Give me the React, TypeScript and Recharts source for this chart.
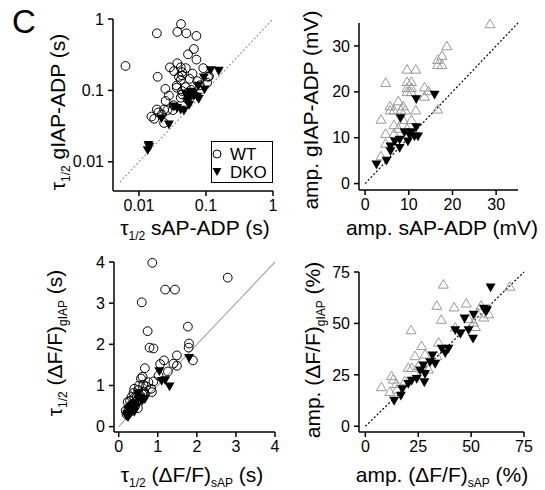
import React from 'react'
import { ScatterChart, Scatter, XAxis, YAxis, ReferenceLine } from 'recharts'

const FONT = 'Arial, "Liberation Sans", Helvetica, sans-serif'

// tau1/2 of the ADP, glutamate-induced AP vs synaptic AP (s)
const tauAdpWT: [number, number][] = [
  [0.0063, 0.22], [0.0185, 0.63], [0.0424, 0.85], [0.0374, 0.66], [0.051, 0.63], [0.072, 0.58],
  [0.066, 0.38], [0.054, 0.32], [0.072, 0.27], [0.0374, 0.24], [0.029, 0.21], [0.042, 0.21],
  [0.05, 0.205], [0.0334, 0.186], [0.044, 0.18], [0.044, 0.162], [0.063, 0.172], [0.0395, 0.155],
  [0.091, 0.205], [0.107, 0.155], [0.019, 0.155], [0.057, 0.145], [0.042, 0.14], [0.074, 0.135],
  [0.104, 0.128], [0.0366, 0.117], [0.0366, 0.109], [0.0248, 0.105], [0.0497, 0.111], [0.06, 0.102],
  [0.044, 0.098], [0.053, 0.093], [0.063, 0.088], [0.044, 0.088], [0.028, 0.085], [0.042, 0.079],
  [0.025, 0.071], [0.053, 0.075], [0.033, 0.062], [0.0237, 0.054], [0.0185, 0.054], [0.0195, 0.049],
  [0.0266, 0.053], [0.032, 0.053], [0.022, 0.046], [0.0154, 0.043], [0.0169, 0.04], [0.0237, 0.035],
  [0.111, 0.158], [0.081, 0.118],
]
const tauAdpDKO: [number, number][] = [
  [0.155, 0.186], [0.117, 0.19], [0.093, 0.15], [0.077, 0.115], [0.095, 0.102], [0.05, 0.088],
  [0.066, 0.083], [0.074, 0.081], [0.078, 0.075], [0.053, 0.069], [0.056, 0.062], [0.033, 0.059],
  [0.037, 0.056], [0.042, 0.053], [0.047, 0.052], [0.0217, 0.04], [0.028, 0.033], [0.0139, 0.017],
  [0.0135, 0.0144], [0.0142, 0.016], [0.06, 0.095], [0.065, 0.09], [0.055, 0.078],
]

// ADP amplitude (mV)
const ampAdpWT: [number, number][] = [
  [28.6, 34.8], [18.7, 30], [17.6, 27.9], [16.6, 27], [16.6, 25.9], [17.6, 25.9], [9.6, 24.9],
  [11.6, 24.9], [4.7, 22], [9.6, 22.2], [10.6, 22.2], [9.6, 20.9], [10.6, 20.9], [9.6, 20],
  [10.6, 20], [13.6, 21], [14.5, 20.2], [13.6, 19], [16.6, 16.2], [7.6, 18], [5.7, 16.9],
  [6.6, 16], [5.7, 16], [8.7, 16.9], [9.2, 16], [8.2, 16], [11.6, 16], [3.65, 14], [6.6, 12.8],
  [8.7, 13.9], [10.6, 13.9], [7.6, 12], [9.6, 12], [4.7, 10.9], [6.6, 10.9], [4.7, 8.75], [3.65, 6],
]
const ampAdpDKO: [number, number][] = [
  [2.6, 4.1], [4.9, 4.9], [5.8, 8.0], [5.8, 7.0], [7.9, 9.5], [7.9, 7.7], [6.8, 9.1], [8.1, 14.2],
  [11.7, 18.3], [15.9, 19.3], [9.0, 11.1], [10.6, 11.1], [10.2, 10.4], [11.7, 12.2], [11.3, 10.2],
  [9.8, 9.1], [12.1, 10.2],
]

// tau1/2 of the dF/F transient (s)
const tauCaWT: [number, number][] = [
  [0.86, 3.98], [2.79, 3.62], [1.19, 3.33], [1.44, 3.33], [0.59, 3.02], [0.74, 2.32], [1.77, 2.43],
  [1.8, 2.02], [1.79, 1.92], [0.79, 1.92], [0.89, 1.9], [1.49, 1.73], [1.16, 1.61], [1.4, 1.53],
  [1.49, 1.48], [1.9, 1.61], [1.06, 1.52], [0.67, 1.42], [1.26, 1.34], [0.61, 1.21], [0.57, 1.17],
  [1.02, 1.24], [0.89, 1.1], [0.76, 1.08], [0.63, 1.02], [0.83, 0.92], [0.85, 0.84], [0.5, 0.89],
  [0.4, 0.92], [0.67, 0.8], [0.29, 0.63], [0.23, 0.6], [0.18, 0.39], [0.49, 0.45], [0.33, 0.72],
  [0.46, 0.72], [0.3, 0.5], [0.35, 0.55], [0.4, 0.7], [0.45, 0.6], [0.25, 0.45], [0.28, 0.35],
  [0.55, 0.75], [0.6, 0.8], [0.65, 0.85], [0.2, 0.3], [0.38, 0.82], [0.52, 1.0], [0.42, 0.5],
  [0.7, 0.98],
]
const tauCaDKO: [number, number][] = [
  [1.8, 1.66], [1.04, 1.34], [1.1, 1.1], [1.19, 1.12], [1.3, 0.97], [0.67, 0.66], [0.49, 0.8],
  [0.5, 0.66], [0.2, 0.25], [0.29, 0.35], [0.22, 0.3], [0.25, 0.4], [0.3, 0.45], [0.35, 0.5],
  [0.38, 0.42], [0.42, 0.55], [0.45, 0.48], [0.28, 0.28], [0.33, 0.38], [0.24, 0.22], [0.55, 0.7],
  [0.6, 0.62], [0.4, 0.35],
]

// dF/F amplitude (%)
const ampCaWT: [number, number][] = [
  [36.9, 69], [68.3, 68], [33.8, 58.7], [42, 57.9], [47.7, 59.8], [35.9, 51.9], [21.6, 46.8],
  [54.7, 58.7], [58.3, 54.6], [51.2, 50.5], [52, 48.4], [48.8, 52.2], [42.5, 48.1], [34.6, 40.8],
  [26.6, 39.1], [23.5, 34.2], [28.2, 35], [33.8, 34.2], [20.3, 28.5], [21.9, 28.5], [25.1, 29.4],
  [29.8, 27.7], [12.4, 24.5], [13.2, 22.8], [7.6, 19.1], [11.6, 16.8], [14.7, 20.7], [18.7, 22],
  [53, 55], [56, 53], [27, 28], [15, 18],
]
const ampCaDKO: [number, number][] = [
  [59.2, 67.3], [56, 57], [57.5, 56.3], [51.2, 54.1], [46.9, 52.2], [50.9, 42.4], [48.8, 46.5],
  [44.9, 44.8], [42.5, 46.5], [39.3, 37.5], [36.1, 37.5], [37.8, 35.4], [31.7, 34.2], [33, 30.1],
  [30.6, 31], [27.4, 29.4], [25.9, 26.9], [28.2, 25.2], [24.3, 22.8], [21.9, 22], [20.3, 20.4],
  [27.9, 21.2], [17.5, 17.9], [16.8, 14.7], [13.6, 12.2], [57, 55.5], [45, 45],
]

const logTicks = [0.01, 0.1, 1]
const mvTicks = [0, 10, 20, 30]
const secTicks = [0, 1, 2, 3, 4]
const pctTicks = [0, 25, 50, 75]

const toPts = (a: [number, number][]) => a.map(([x, y]) => ({ x, y }))

const OpenCircle = (p: any) => <circle cx={p.cx} cy={p.cy} r={4.4} fill="none" stroke="#000" strokeWidth={1} />
const DownTri = (p: any) => (
  <path d={`M${p.cx - 5},${p.cy - 4.3} L${p.cx + 5},${p.cy - 4.3} L${p.cx},${p.cy + 4.5} Z`} fill="#000" />
)
const GrayTri = (p: any) => (
  <path d={`M${p.cx - 5},${p.cy + 3.8} L${p.cx + 5},${p.cy + 3.8} L${p.cx},${p.cy - 4.8} Z`}
    fill="none" stroke="#999" strokeWidth={1} />
)

type Part = [string, boolean]
function Title({ x, y, parts, vertical }: { x: number; y: number; parts: Part[]; vertical?: boolean }) {
  let prev = false
  return (
    <text x={x} y={y} textAnchor="middle" fontFamily={FONT} fontSize={21} fill="#000"
      transform={vertical ? `rotate(-90 ${x} ${y})` : undefined}>
      {parts.map(([s, sub], i) => {
        const dy = sub === prev ? 0 : sub ? 5 : -5
        prev = sub
        return <tspan key={i} dy={dy} fontSize={sub ? 12 : 21}>{s}</tspan>
      })}
    </text>
  )
}

const tick = { fontSize: 16, fill: '#000', fontFamily: FONT }
const axisLine = { stroke: '#000', strokeWidth: 1.5 }

interface PanelProps {
  left: number; top: number; width: number; height: number
  plot: [number, number, number, number] // x0, y0, x1, y1 in page px
  log?: boolean
  xDomain: [number, number]; yDomain: [number, number]
  xTicks: number[]; yTicks: number[]
  wt: [number, number][]; dko: [number, number][]
  wtShape: any
  diag: [number, number]; diagColor: string; diagDash?: string
}

function Panel(p: PanelProps) {
  const [x0, y0, x1, y1] = p.plot
  const yw = 50, xh = 30
  const margin = {
    top: y0 - p.top,
    left: x0 - p.left - yw,
    right: p.left + p.width - x1,
    bottom: p.top + p.height - y1 - xh,
  }
  return (
    <div style={{ position: 'absolute', left: p.left, top: p.top }}>
      <ScatterChart width={p.width} height={p.height} margin={margin}>
        <XAxis type="number" dataKey="x" scale={p.log ? 'log' : 'linear'} domain={p.xDomain} ticks={p.xTicks}
          interval={0} height={xh} tick={tick} tickSize={5} tickMargin={4}
          axisLine={axisLine} tickLine={axisLine} />
        <YAxis type="number" dataKey="y" scale={p.log ? 'log' : 'linear'} domain={p.yDomain} ticks={p.yTicks}
          interval={0} width={yw} tick={tick} tickSize={5} tickMargin={4}
          axisLine={axisLine} tickLine={axisLine} />
        <ReferenceLine segment={[{ x: p.diag[0], y: p.diag[0] }, { x: p.diag[1], y: p.diag[1] }]}
          stroke={p.diagColor} strokeWidth={1.2} strokeDasharray={p.diagDash} ifOverflow="visible" />
        <Scatter data={toPts(p.wt)} shape={p.wtShape} isAnimationActive={false} />
        <Scatter data={toPts(p.dko)} shape={DownTri} isAnimationActive={false} />
      </ScatterChart>
    </div>
  )
}

export default function App() {
  return (
    <div style={{ position: 'absolute', left: 0, top: 0, width: 545, height: 490, overflow: 'hidden', background: '#fff', fontFamily: FONT }}>
      <Panel left={0} top={0} width={280} height={240} plot={[113, 19, 273, 191]} log
        xDomain={[0.0041, 1]} yDomain={[0.0039, 1]} xTicks={logTicks} yTicks={logTicks}
        wt={tauAdpWT} dko={tauAdpDKO} wtShape={OpenCircle}
        diag={[0.0052, 1]} diagColor="#999" diagDash="2 2" />
      <Panel left={280} top={0} width={265} height={240} plot={[359, 23, 518, 190]}
        xDomain={[-1.4, 35]} yDomain={[-1.4, 35]} xTicks={mvTicks} yTicks={mvTicks}
        wt={ampAdpWT} dko={ampAdpDKO} wtShape={GrayTri}
        diag={[0, 35]} diagColor="#000" diagDash="2 2" />
      <Panel left={0} top={240} width={280} height={250} plot={[114, 262, 275, 432]}
        xDomain={[-0.12, 4]} yDomain={[-0.13, 4]} xTicks={secTicks} yTicks={secTicks}
        wt={tauCaWT} dko={tauCaDKO} wtShape={OpenCircle}
        diag={[0, 4]} diagColor="#aaa" />
      <Panel left={280} top={240} width={265} height={250} plot={[359, 272, 524, 432]}
        xDomain={[-3, 75]} yDomain={[-2.8, 75]} xTicks={pctTicks} yTicks={pctTicks}
        wt={ampCaWT} dko={ampCaDKO} wtShape={GrayTri}
        diag={[0, 75]} diagColor="#000" diagDash="2 2" />

      <svg width={545} height={490} style={{ position: 'absolute', left: 0, top: 0, pointerEvents: 'none' }}>
        <text x={12} y={33} fontFamily={FONT} fontSize={33} fill="#000">C</text>
        <Title x={195} y={235} parts={[['τ', false], ['1/2', true], [' sAP-ADP (s)', false]]} />
        <Title x={65} y={112} vertical parts={[['τ', false], ['1/2', true], [' gIAP-ADP (s)', false]]} />
        <Title x={442} y={235} parts={[['amp. sAP-ADP (mV)', false]]} />
        <Title x={318} y={110} vertical parts={[['amp. gIAP-ADP (mV)', false]]} />
        <Title x={192} y={482} parts={[['τ', false], ['1/2', true], [' (ΔF/F)', false], ['sAP', true], [' (s)', false]]} />
        <Title x={62} y={343} vertical parts={[['τ', false], ['1/2', true], [' (ΔF/F)', false], ['gIAP', true], [' (s)', false]]} />
        <Title x={442} y={482} parts={[['amp. (ΔF/F)', false], ['sAP', true], [' (%)', false]]} />
        <Title x={320} y={350} vertical parts={[['amp. (ΔF/F)', false], ['gIAP', true], [' (%)', false]]} />

        <rect x={211.5} y={141.5} width={61} height={41} fill="#fff" stroke="#000" strokeWidth={1} />
        <circle cx={217} cy={154} r={4} fill="none" stroke="#000" />
        <path d="M212.5,168 L221.5,168 L217,176 Z" fill="#000" />
        <text x={230} y={160} fontFamily={FONT} fontSize={17} fill="#000">WT</text>
        <text x={230} y={178} fontFamily={FONT} fontSize={17} fill="#000">DKO</text>
      </svg>
    </div>
  )
}
